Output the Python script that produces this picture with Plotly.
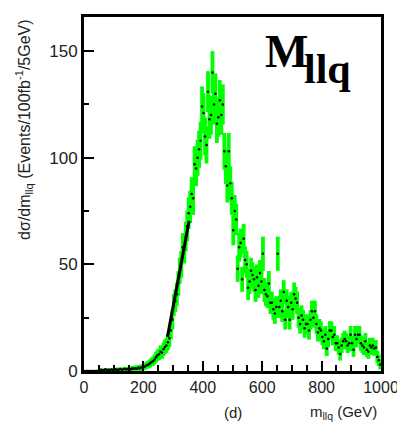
import plotly.graph_objects as go

# m_llq histogram, 5 GeV bins from 0 to 1000 GeV
bin_width = 5
counts = [
    0, 0, 0, 0, 0, 0, 0, 0, 0, 0,
    0.4, 0.6, 0.3, 0.5, 0.8, 0.4, 0.6, 0.5, 0.7, 0.5,
    0.6, 0.8, 0.5, 0.7, 0.9, 0.6, 0.8, 1.0, 0.7, 0.9,
    1.0, 0.8, 1.2, 1.0, 1.3, 1.1, 1.5, 1.2, 1.6, 1.8,
    2.0, 2.4, 2.8, 3.1, 3.6, 4.2, 4.6, 5.4, 6.5, 7.4,
    7.8, 9.0, 8.6, 10.2, 11.3, 12.0, 13.5, 15.3, 19, 24,
    31, 33, 36, 41, 47, 50, 58, 57, 63, 68,
    74, 77, 83, 81, 97, 95, 100, 104, 108, 124,
    121, 110, 106, 131, 118, 120, 140, 125, 130, 116,
    119, 127, 120, 125, 103, 96, 87, 103, 88, 81,
    66, 75, 71, 48, 58, 60, 43, 62, 52, 50,
    39, 42, 47, 45, 43, 38, 44, 40, 46, 42,
    55, 38, 36, 35, 41, 32, 32, 29, 27, 30,
    55, 30, 33, 28, 37, 24, 33, 30, 24, 32,
    29, 36, 34, 32, 25, 22, 26, 24, 20, 22,
    22, 19, 24, 28, 25, 28, 22, 18, 20, 19,
    16, 14, 17, 10.5, 15, 19, 19, 16, 17, 13,
    13, 11, 8, 12, 14, 15, 14, 12, 13, 17,
    13, 10, 17, 15, 17, 17, 13, 12, 11, 14,
    10, 9, 12, 11, 12, 10.5, 11, 6.6, 5, 3,
]
errors = [
    0, 0, 0, 0, 0, 0, 0, 0, 0, 0,
    0.6, 0.6, 0.6, 0.6, 0.6, 0.6, 0.6, 0.6, 0.6, 0.6,
    0.8, 0.8, 0.8, 0.8, 0.8, 0.8, 0.8, 0.8, 0.8, 0.8,
    1.0, 1.0, 1.2, 1.0, 1.2, 1.2, 1.3, 1.2, 1.4, 1.4,
    1.5, 1.6, 1.7, 1.8, 1.9, 2.0, 2.1, 2.3, 2.5, 2.6,
    2.7, 3.0, 2.9, 3.2, 3.4, 3.5, 3.7, 4.0, 4.2, 4.6,
    5.2, 5.3, 5.5, 5.8, 6.1, 6.3, 6.7, 6.6, 7.0, 7.2,
    7.4, 7.6, 7.9, 7.8, 8.4, 8.3, 8.5, 8.7, 8.9, 9.5,
    9.3, 8.9, 8.7, 9.6, 9.1, 9.2, 10, 9.4, 9.6, 9.1,
    9.1, 9.4, 9.2, 9.4, 8.6, 8.3, 8.0, 8.6, 8.0, 7.8,
    7.1, 7.5, 7.3, 6.2, 6.7, 6.8, 5.9, 7.0, 6.4, 6.3,
    5.7, 5.9, 6.1, 6.0, 5.9, 5.6, 6.0, 5.7, 6.1, 5.9,
    8.0, 5.6, 5.5, 5.4, 5.9, 5.2, 5.2, 5.0, 4.9, 5.1,
    8.0, 5.1, 5.3, 5.0, 5.6, 4.6, 5.3, 5.1, 4.6, 5.2,
    5.0, 5.5, 5.4, 5.3, 4.7, 4.5, 4.8, 4.6, 4.4, 4.5,
    4.5, 4.3, 4.6, 5.0, 4.7, 5.0, 4.5, 4.2, 4.4, 4.3,
    4.0, 3.8, 4.1, 3.5, 3.9, 4.3, 4.3, 4.0, 4.1, 3.7,
    3.7, 3.5, 3.1, 3.6, 3.8, 3.9, 3.8, 3.6, 3.7, 4.1,
    3.7, 3.4, 4.1, 3.9, 4.1, 4.1, 3.7, 3.6, 3.5, 3.8,
    3.4, 3.3, 3.6, 3.5, 3.6, 3.4, 3.5, 2.9, 2.7, 2.3,
]
centers = [bin_width * i + bin_width / 2 for i in range(len(counts))]

# straight fit on the rising edge
fit_x = [281, 354]
fit_y = [16, 70.5]

x_ticks = [0, 200, 400, 600, 800, 1000]
y_ticks = [0, 50, 100, 150]

fig = go.Figure()

fig.add_trace(go.Scatter(
    x=centers, y=counts, mode="markers",
    marker=dict(color="black", size=2.5),
    error_y=dict(type="data", array=errors, color="#00ff00", thickness=3.8, width=0),
    showlegend=False,
))

fig.add_trace(go.Scatter(
    x=fit_x, y=fit_y, mode="lines",
    line=dict(color="black", width=3),
    showlegend=False,
))

label_font = "Liberation Sans, Arial"

fig.update_xaxes(
    range=[0, 1000], tickvals=x_ticks, ticks="inside", ticklen=10, tickwidth=2,
    tickcolor="black", minor=dict(dtick=50, ticks="inside", ticklen=6, tickwidth=2, tickcolor="black"),
    showline=True, linecolor="black", linewidth=3, mirror=True,
    showgrid=False, zeroline=False, tickfont=dict(family=label_font, size=16, color="#222"),
)
fig.update_yaxes(
    range=[0, 166], tickvals=y_ticks, ticks="inside", ticklen=10, tickwidth=2,
    tickcolor="black", minor=dict(dtick=25, ticks="inside", ticklen=5, tickwidth=2, tickcolor="black"),
    showline=True, linecolor="black", linewidth=3, mirror=True,
    showgrid=False, zeroline=False, tickfont=dict(family=label_font, size=17, color="#222"),
)

fig.add_annotation(
    text="dσ/dm<sub>llq</sub> (Events/100fb<sup>-1</sup>/5GeV)",
    xref="paper", yref="paper", x=-0.2, y=0.68, textangle=-90,
    showarrow=False, xanchor="center", yanchor="middle",
    font=dict(family=label_font, size=16, color="#222"),
)
fig.add_annotation(
    text="(d)", xref="paper", yref="paper", x=0.50, y=-0.118,
    showarrow=False, xanchor="center", yanchor="middle",
    font=dict(family=label_font, size=15, color="#222"),
)
fig.add_annotation(
    text="m<sub>llq</sub> (GeV)", xref="paper", yref="paper", x=0.874, y=-0.118,
    showarrow=False, xanchor="center", yanchor="middle",
    font=dict(family=label_font, size=15, color="#222"),
)
fig.add_annotation(
    text="<b>M</b>", xref="paper", yref="paper", x=0.603, y=0.903,
    showarrow=False, xanchor="left", yanchor="middle",
    font=dict(family="Liberation Serif, Times New Roman", size=46, color="black"),
)
fig.add_annotation(
    text="<b>llq</b>", xref="paper", yref="paper", x=0.735, y=0.853,
    showarrow=False, xanchor="left", yanchor="middle",
    font=dict(family="Liberation Serif, Times New Roman", size=42, color="black"),
)

# the page body adds an 8px margin, so the figure is 8px smaller each way
fig.update_layout(
    width=397, height=414,
    margin=dict(l=76, r=19, t=6, b=51),
    plot_bgcolor="white", paper_bgcolor="white",
)

fig.write_html("out.html")
